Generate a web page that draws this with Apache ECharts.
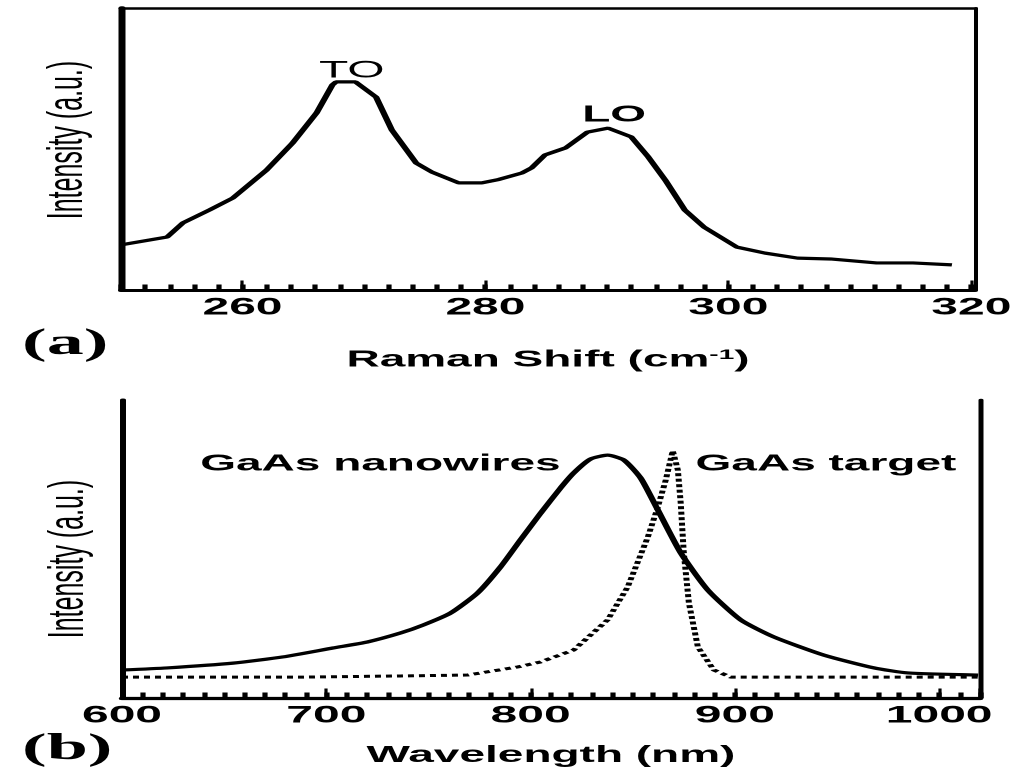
<!DOCTYPE html>
<html>
<head>
<meta charset="utf-8">
<script src="https://cdn.jsdelivr.net/npm/echarts@6/dist/echarts.min.js"></script>
<style>
html,body{margin:0;padding:0;background:#fff;overflow:hidden;}
#c{width:512px;height:780px;transform:scaleX(2);transform-origin:0 0;}
</style>
</head>
<body>
<div id="c"></div>
<script>
// (a) Raman spectrum
const ramanX = [250, 253.8, 255.1, 257.3, 259.2, 262, 264.1, 266.1, 267.4, 267.7, 269.3, 271, 272.3, 274.3, 275.6, 277.8, 279.7, 281.1, 283, 283.8, 284.9, 286.6, 288.4, 290.1, 292, 293.4, 294.8, 296.4, 298, 300.7, 303, 305.7, 308.4, 312.2, 315.2, 318.4];
const ramanY = [16, 18.8, 23.8, 28.4, 32.6, 42.6, 52, 62.8, 72.7, 73.8, 73.8, 68.4, 56.7, 45, 41.8, 38, 38, 39.2, 41.5, 43.3, 47.9, 50.4, 56, 57.4, 54.3, 47.2, 39, 28.4, 22.3, 15.2, 13.1, 11.3, 11, 9.6, 9.6, 8.9];
const ramanTicks = [260, 280, 300, 320];

// (b) PL spectra
const nwX = [600, 622, 654.4, 678.9, 703.4, 720.1, 736.3, 747.5, 760.8, 774, 785.3, 795, 804.9, 814.7, 821.1, 829.4, 837.7, 845.6, 853.9, 862.3, 873.5, 886.8, 902.9, 919.1, 943.6, 968.1, 984.8, 1019.1];
const nwY = [9.4, 10.1, 11.7, 13.8, 16.8, 18.8, 21.8, 24.5, 28.5, 35.2, 44, 53, 62, 70.5, 75.5, 80.2, 81.5, 79.9, 73.8, 63.1, 48.7, 36.2, 26.2, 20.5, 14.4, 10.1, 8.4, 7.7];
const tgX = [600, 687.3, 736.3, 769.1, 793.6, 804.9, 821.1, 837.7, 847.5, 857.4, 862.3, 866.2, 869.6, 872.1, 873.5, 875, 877.5, 881.9, 889.7, 898, 1019.1];
const tgY = [7, 7, 7.4, 7.7, 10.4, 12.1, 16.1, 26.2, 37.2, 54, 64.1, 73.2, 83, 76.5, 65.4, 48.7, 31.9, 17.1, 9.4, 7, 7];
const wlTicks = [600, 700, 800, 900, 1000];

const pair = (xs, ys) => xs.map((x, i) => [x, ys[i]]);
const F = 'Liberation Sans, Arial, sans-serif';
const blk = '#000';
const lab = {fontFamily: F, fontSize: 24, fontWeight: 'bold', color: blk, formatter: v => String(v)};
const hiddenLine = {show: true, onZero: false, lineStyle: {color: 'rgba(0,0,0,0)', width: 1}};
const off = {show: false};
const majorTick = {show: true, inside: true, length: 9.5, lineStyle: {color: blk, width: 1.6}};
const minorTk = {show: true, inside: true, length: 5.5, lineStyle: {color: blk, width: 2.6}};

const chart = echarts.init(document.getElementById('c'), null, {renderer: 'canvas', devicePixelRatio: 2});
chart.setOption({
  animation: false,
  backgroundColor: '#fff',
  title: [
    {text: '(a)', left: 11, top: 326, padding: 0, textStyle: {fontFamily: 'Liberation Serif, Times New Roman, serif', fontWeight: 'bold', fontSize: 37, color: blk}},
    {text: '(b)', left: 11, top: 731, padding: 0, textStyle: {fontFamily: 'Liberation Serif, Times New Roman, serif', fontWeight: 'bold', fontSize: 37, color: blk}}
  ],
  grid: [
    {left: 60.5, right: 24.5, top: 8, bottom: 490},
    {left: 61, right: 22, top: 400, bottom: 82}
  ],
  xAxis: [
    {gridIndex: 0, type: 'value', min: 250, max: 320.3, position: 'bottom',
     axisLine: {show: true, onZero: false, lineStyle: {color: blk, width: 3}},
     axisTick: {...majorTick, customValues: ramanTicks},
     axisLabel: {show: true, customValues: ramanTicks, margin: 6, ...lab},
     splitLine: off,
     name: 'Raman Shift (cm{sup|-1})', nameLocation: 'middle', nameGap: 58,
     nameTextStyle: {fontFamily: F, fontSize: 23, fontWeight: 'bold', color: blk,
       rich: {sup: {fontFamily: F, fontSize: 14, fontWeight: 'bold', color: blk, verticalAlign: 'top', lineHeight: 24}}}},
    {gridIndex: 0, type: 'value', min: 250, max: 320.3, interval: 2, position: 'bottom', offset: 0,
     axisLine: hiddenLine, axisTick: minorTk, axisLabel: off, splitLine: off},
    {gridIndex: 0, type: 'value', min: 250, max: 320.3, position: 'top',
     axisLine: {show: true, onZero: false, lineStyle: {color: blk, width: 2.5}},
     axisTick: off, axisLabel: off, splitLine: off},
    {gridIndex: 1, type: 'value', min: 600, max: 1020, interval: 100, position: 'bottom',
     axisLine: {show: true, onZero: false, lineStyle: {color: blk, width: 3.2}},
     axisTick: majorTick,
     axisLabel: {show: true, customValues: wlTicks, margin: 6, ...lab},
     splitLine: off,
     name: 'Wavelength (nm)', nameLocation: 'middle', nameGap: 46,
     nameTextStyle: {fontFamily: F, fontSize: 23, fontWeight: 'bold', color: blk}},
    {gridIndex: 1, type: 'value', min: 600, max: 1020, interval: 10, position: 'bottom', offset: 0,
     axisLine: hiddenLine, axisTick: minorTk, axisLabel: off, splitLine: off}
  ],
  yAxis: [
    {gridIndex: 0, type: 'value', min: 0, max: 100, position: 'left',
     axisLine: {show: true, onZero: false, lineStyle: {color: blk, width: 3.5}},
     axisTick: off, axisLabel: off, splitLine: off,
     name: 'Intensity (a.u.)', nameLocation: 'middle', nameGap: 14, nameRotate: 90,
     nameTextStyle: {fontFamily: F, fontSize: 25, color: blk, padding: [0, 0, 0, 18]}},
    {gridIndex: 0, type: 'value', min: 0, max: 100, position: 'right',
     axisLine: {show: true, onZero: false, lineStyle: {color: blk, width: 2}},
     axisTick: off, axisLabel: off, splitLine: off},
    {gridIndex: 1, type: 'value', min: 0, max: 100, position: 'left',
     axisLine: {show: true, onZero: false, lineStyle: {color: blk, width: 3}},
     axisTick: off, axisLabel: off, splitLine: off,
     name: 'Intensity (a.u.)', nameLocation: 'middle', nameGap: 14, nameRotate: 90,
     nameTextStyle: {fontFamily: F, fontSize: 25, color: blk, padding: [0, 20, 0, 0]}},
    {gridIndex: 1, type: 'value', min: 0, max: 100, position: 'right',
     axisLine: {show: true, onZero: false, lineStyle: {color: blk, width: 2.5}},
     axisTick: off, axisLabel: off, splitLine: off}
  ],
  series: [
    {name: 'Raman', type: 'line', xAxisIndex: 0, yAxisIndex: 0, data: pair(ramanX, ramanY),
     showSymbol: false, smooth: false, lineStyle: {color: blk, width: 3.2},
     markPoint: {symbol: 'circle', symbolSize: 0, silent: true,
       data: [
         {name: 'TO', coord: [269, 77.7], label: {show: true, position: 'inside', formatter: 'TO', fontFamily: F, fontSize: 24, color: blk}},
         {name: 'LO', coord: [290.6, 62], label: {show: true, position: 'inside', formatter: 'LO', fontFamily: F, fontSize: 23, fontWeight: 'bold', color: blk}}
       ]}},
    {name: 'GaAs nanowires', type: 'line', xAxisIndex: 3, yAxisIndex: 2, data: pair(nwX, nwY),
     showSymbol: false, smooth: 0.2, lineStyle: {color: blk, width: 3.2},
     markPoint: {symbol: 'circle', symbolSize: 0, silent: true,
       data: [
         {name: 'GaAs nanowires', coord: [726.5, 78.5], label: {show: true, position: 'inside', formatter: 'GaAs nanowires', fontFamily: F, fontSize: 23, fontWeight: 'bold', color: blk}},
         {name: 'GaAs target', coord: [944.6, 78.5], label: {show: true, position: 'inside', formatter: 'GaAs target', fontFamily: F, fontSize: 23, fontWeight: 'bold', color: blk}}
       ]}},
    {name: 'GaAs target', type: 'line', xAxisIndex: 3, yAxisIndex: 2, data: pair(tgX, tgY),
     showSymbol: false, smooth: false, lineStyle: {color: blk, width: 3, type: [3, 2.5]}}
  ]
});
</script>
</body>
</html>
